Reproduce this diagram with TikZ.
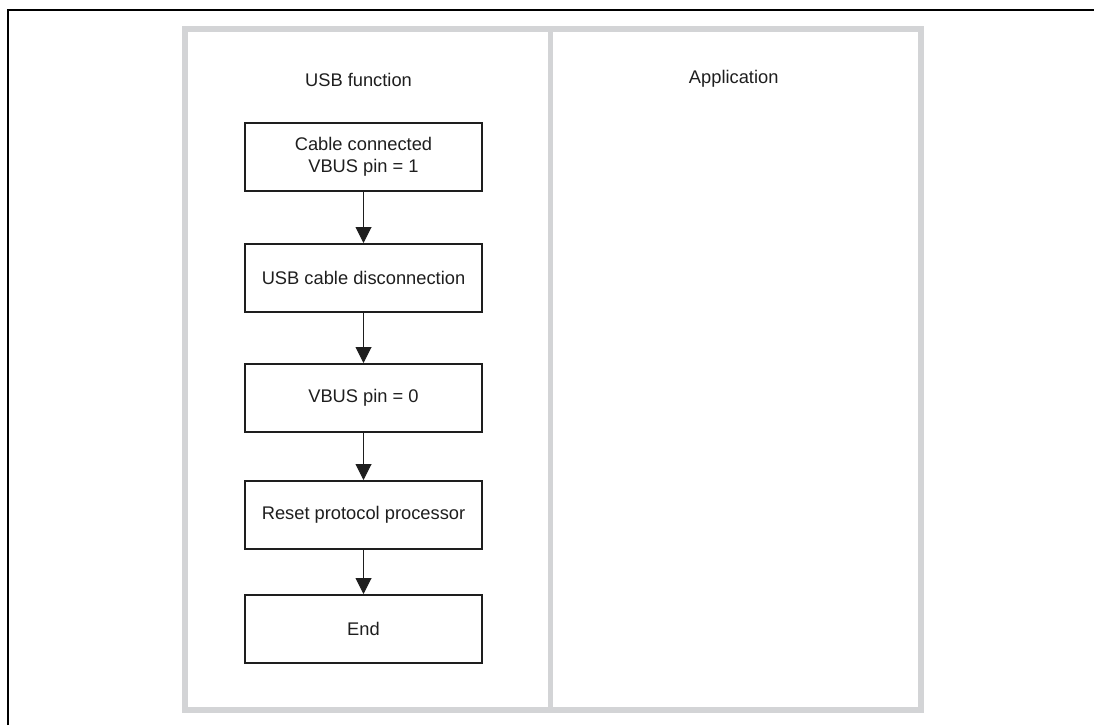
\documentclass[tikz,border=0pt]{standalone}
\usepackage{fontspec}
\setmainfont{Liberation Sans}
\usetikzlibrary{arrows.meta}
\definecolor{lanegray}{RGB}{211,212,214}
\definecolor{ink}{RGB}{30,30,30}
\tikzset{
  stepbox/.style={draw=ink, line width=2pt, minimum width=237pt, minimum height=68pt,
    inner sep=0pt, align=center, font=\fontsize{18.3}{22}\selectfont, text=ink},
  lanelabel/.style={font=\fontsize{18.3}{22}\selectfont, text=ink},
  flow/.style={draw=ink, line width=1pt, -{Triangle[width=16pt,length=16pt]}}
}
\begin{document}
\begin{tikzpicture}[x=1pt,y=-1pt]
\useasboundingbox (0,0) rectangle (1094,725);
% outer frame (left and top only)
\draw[line width=2pt, black] (8.3,725) -- (8.3,10.3) -- (1094,10.3);
% lanes
\draw[lanegray, line width=6pt] (185,29) rectangle (921,710);
\draw[lanegray, line width=5pt] (550.5,29) -- (550.5,710);
\node[lanelabel] (usb) at (358.5,80) {USB function};
\node[lanelabel] (app) at (733.7,79) {Application};
% steps
\node[stepbox] (b1) at (363.5,157) {Cable connected\\VBUS pin = 1};
\node[stepbox] (b2) at (363.5,278) {USB cable disconnection};
\node[stepbox] (b3) at (363.5,398) {VBUS pin = 0};
\node[stepbox] (b4) at (363.5,515) {Reset protocol processor};
\node[stepbox] (b5) at (363.5,629) {End};
\draw[flow] (b1) -- (b2);
\draw[flow] (b2) -- (b3);
\draw[flow] (b3) -- (b4);
\draw[flow] (b4) -- (b5);
\end{tikzpicture}
\end{document}
